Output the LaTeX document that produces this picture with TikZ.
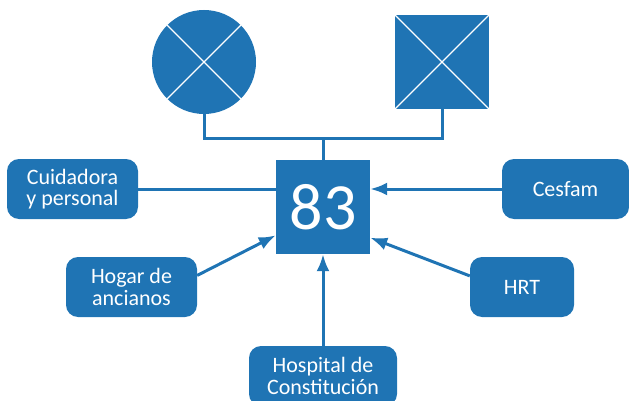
\documentclass[tikz,border=0pt]{standalone}
\usepackage{fontspec}
\setmainfont{Carlito}
\definecolor{genoblue}{RGB}{31,116,180}
\usepackage{tikz}
\usetikzlibrary{arrows.meta, positioning, shapes}

\begin{document}
\begin{tikzpicture}[x=1pt, y=-1pt,
	lbl/.style={draw=none, fill=genoblue, text=white, rounded corners=12pt, align=center,
		minimum height=60pt, inner sep=2pt, font=\fontsize{22}{21.5}\selectfont},
	link/.style={genoblue, line width=3pt},
	arr/.style={link, -{Latex[length=17pt, width=13pt]}},
	cross/.style={white, line width=1.3pt}]

\useasboundingbox (0,0) rectangle (629,401);
\clip (0,0) rectangle (629,401);

% family
\node[circle, fill=genoblue, minimum size=104pt, inner sep=0pt] (mujer) at (204, 62) {};
\node[rectangle, fill=genoblue, minimum size=94pt, inner sep=0pt] (hombre) at (442, 62) {};
\draw[cross] (mujer.45) -- (mujer.225) (mujer.135) -- (mujer.315);
\draw[cross] (hombre.north west) -- (hombre.south east) (hombre.north east) -- (hombre.south west);

% index case
\node[rectangle, fill=genoblue, text=white, minimum size=94pt, inner sep=0pt,
	font=\fontsize{66}{66}\selectfont] (caso) at (323, 207) {83};

\coordinate (union) at (323, 139);
\draw[link] (mujer.south) |- (union) -| (hombre.south);
\draw[link] (union) -- (caso.north);

% network
\node[lbl, minimum width=131pt] (cuidadora) at (72.5, 189) {Cuidadora\\y personal};
\node[lbl, minimum width=127pt] (cesfam)    at (565.5, 189) {Cesfam};
\node[lbl, minimum width=131pt] (hogar)     at (131.5, 287) {Hogar de\\ancianos};
\node[lbl, minimum width=104pt] (hrt)       at (522, 287) {HRT};
\node[lbl, minimum width=148pt] (hospital)  at (323, 376) {Hospital de\\Constitución};

\draw[link] (cuidadora.east) -- (cuidadora.east -| caso.west); % no arrow
\draw[arr] (cesfam.west) -- (cesfam.west -| caso.east);
\draw[arr] (hogar.10) -- (caso.211);
\draw[arr] (hrt.168) -- (caso.327);
\draw[arr] (hospital.north) -- (caso.south);

\end{tikzpicture}
\end{document}
